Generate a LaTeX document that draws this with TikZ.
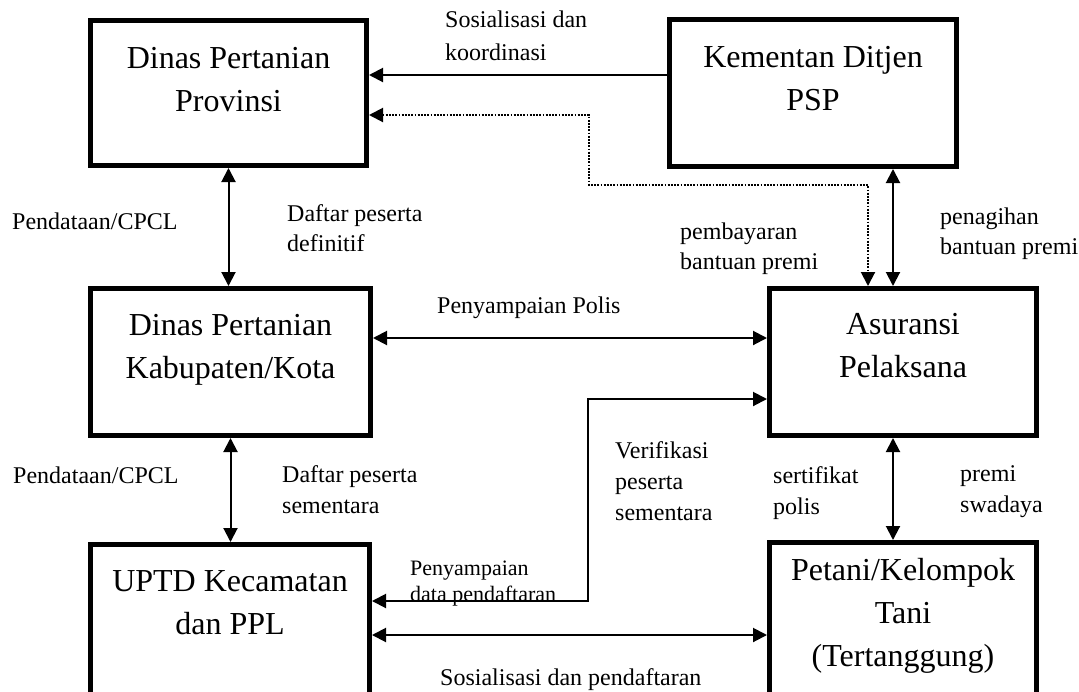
\documentclass[tikz,border=0pt]{standalone}
\usepackage{fontspec}
\setmainfont{Liberation Serif}
\usetikzlibrary{arrows.meta}
\begin{document}
\begin{tikzpicture}[x=1pt,y=-1pt,
  box/.style={draw,line width=5pt,rectangle,inner sep=0pt},
  boxtxt/.style={anchor=north,align=center,inner sep=0pt,font=\fontsize{32}{43}\selectfont},
  lab/.style={anchor=north west,align=left,inner sep=0pt,font=\fontsize{24}{31}\selectfont},
  conn/.style={line width=2pt},
  arr/.style={conn,-{Triangle[length=14pt,width=14pt]}},
  dbl/.style={conn,{Triangle[length=14pt,width=14pt]}-{Triangle[length=14pt,width=14pt]}},
  dotl/.style={line width=2pt,dash pattern=on 1.8pt off 1.4pt,{Triangle[length=14pt,width=14pt]}-{Triangle[length=14pt,width=14pt]}}
]
\useasboundingbox (0,0) rectangle (1079,691);
\clip (0,0) rectangle (1079,691);

% boxes
\node[box,minimum width=276pt,minimum height=145pt] (prov) at (228.5,93) {};
\node[box,minimum width=287pt,minimum height=147pt] (kem) at (813,93) {};
\node[box,minimum width=280pt,minimum height=147pt] (kab) at (230.5,362) {};
\node[box,minimum width=267pt,minimum height=147pt] (asu) at (903,362) {};
\node[box,minimum width=279pt,minimum height=163pt] (upt) at (230,626) {};
\node[box,minimum width=267pt,minimum height=165pt] (pet) at (903,625) {};

% box texts
\node[boxtxt] (provt) at ([yshift=-29pt]prov.north) {Dinas Pertanian\\Provinsi};
\node[boxtxt] (kemt) at ([yshift=-29pt]kem.north) {Kementan Ditjen\\PSP};
\node[boxtxt] (kabt) at ([yshift=-28pt]kab.north) {Dinas Pertanian\\Kabupaten/Kota};
\node[boxtxt] (asut) at ([yshift=-27pt]asu.north) {Asuransi\\Pelaksana};
\node[boxtxt] (uptt) at ([yshift=-28pt]upt.north) {UPTD Kecamatan\\dan PPL};
\node[boxtxt] (pett) at ([yshift=-18pt]pet.north) {Petani/Kelompok\\Tani\\(Tertanggung)};

% column / bend coordinates
\coordinate (xa) at (893,0);
\coordinate (d1) at (589,115);
\coordinate (d2) at (589,185);
\coordinate (d3) at (868,185);
\coordinate (v1) at (588,601);
\coordinate (v2) at (588,399);

% connectors
\draw[arr] ([yshift=18pt]kem.west) -- ([yshift=18pt]kem.west -| prov.east);
\draw[dotl] ([yshift=-22pt]prov.east) -- (d1) -- (d2) -- (d3) -- (d3 |- asu.north);
\draw[dbl] (kem.south -| xa) -- (asu.north -| xa);
\draw[dbl] (prov.south) -- (prov.south |- kab.north);
\draw[dbl] (kab.south) -- (kab.south |- upt.north);
\draw[dbl] ([yshift=24pt]kab.east) -- ([yshift=24pt]kab.east -| asu.west);
\draw[dbl] (asu.south -| xa) -- (pet.north -| xa);
\draw[dbl] ([yshift=25pt]upt.east) -- (v1) -- (v2) -- (v2 -| asu.west);
\draw[dbl] ([yshift=-9pt]upt.east) -- ([yshift=-9pt]upt.east -| pet.west);

% labels
\node[lab,font=\fontsize{24}{33}\selectfont] (l1) at (445,10.5) {Sosialisasi dan\\koordinasi};
\node[lab] (l2) at (12,212.5) {Pendataan/CPCL};
\node[lab,font=\fontsize{24}{30}\selectfont] (l3) at (287,204.5) {Daftar peserta\\definitif};
\node[lab,font=\fontsize{24}{30}\selectfont] (l4) at (680,222.5) {pembayaran\\bantuan premi};
\node[lab,font=\fontsize{24}{30}\selectfont] (l5) at (940,208) {penagihan\\bantuan premi};
\node[lab] (l6) at (437,296.5) {Penyampaian Polis};
\node[lab] (l7) at (13,466.5) {Pendataan/CPCL};
\node[lab] (l8) at (282,465.5) {Daftar peserta\\sementara};
\node[lab] (l9) at (615,441.5) {Verifikasi\\peserta\\sementara};
\node[lab] (l10) at (773,466.5) {sertifikat\\polis};
\node[lab] (l11) at (960,465.5) {premi\\swadaya};
\node[lab,font=\fontsize{22}{26}\selectfont] (l12) at (410,561) {Penyampaian\\data pendaftaran};
\node[lab] (l13) at (440,668.5) {Sosialisasi dan pendaftaran};
\end{tikzpicture}
\end{document}
